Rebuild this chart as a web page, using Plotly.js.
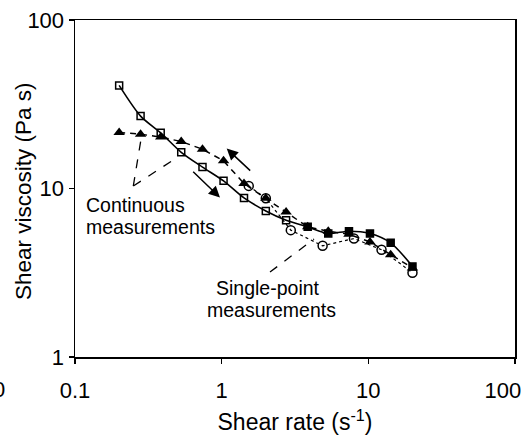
<!DOCTYPE html>
<html>
<head>
<meta charset="utf-8">
<script src="https://cdn.plot.ly/plotly-3.0.1.min.js"></script>
<style>html,body{margin:0;padding:0;background:#fff;}</style>
</head>
<body>
<div id="chart" style="width:524px;height:437px;"></div>
<script>
// Shear rates (s^-1) of the continuous sweeps
const shearRate = [0.2, 0.28, 0.384, 0.53, 0.74, 1.03, 1.42, 2.0, 2.75, 3.86, 5.33, 7.38, 10.26, 14.2, 20];
// Continuous measurement, squares (solid line)
const viscSquares = [40.9, 26.9, 21.4, 16.4, 13.4, 11.1, 8.79, 7.36, 6.48, 5.92, 5.41, 5.58, 5.41, 4.76, 3.45];
// Continuous measurement, triangles (dashed line)
const viscTriangles = [21.5, 21.0, 20.2, 19.0, 17.1, 14.6, 10.7, 8.75, 7.26, 5.92, 5.58, 5.35, 4.82, 4.05, 3.38];
// Single-point measurements (circles, dotted line)
const singleRate = [1.53, 2.0, 2.96, 4.88, 7.98, 12.3, 20];
const singleVisc = [10.36, 8.75, 5.66, 4.57, 5.05, 4.33, 3.16];
// Tick labels
const xTickVals = [0.1, 1, 10, 100];
const xTickText = ['0.1', '1', '10', '100\u00a0\u00a0\u00a0\u00a0'];
const yTickVals = [1, 10, 100];
const yTickText = ['1', '10', '100'];

const FONT = 'Liberation Sans, Arial, sans-serif';
const openCount = 9;

const traces = [
  {
    x: shearRate, y: viscSquares, type: 'scatter', mode: 'lines+markers',
    line: {color: '#000', width: 1.6, shape: 'spline', smoothing: 0.8},
    marker: {
      symbol: shearRate.map((v, i) => i < openCount ? 'square-open' : 'square'),
      size: 7, color: '#000', line: {color: '#000', width: 1.5}
    },
    showlegend: false, hoverinfo: 'skip'
  },
  {
    x: shearRate, y: viscTriangles, type: 'scatter', mode: 'lines+markers',
    line: {color: '#000', width: 1.5, dash: '6px,5px'},
    marker: {symbol: 'triangle-up', size: 10, color: '#000'},
    showlegend: false, hoverinfo: 'skip'
  },
  {
    x: singleRate, y: singleVisc, type: 'scatter', mode: 'lines+markers',
    line: {color: '#000', width: 1.2, dash: 'dot'},
    marker: {symbol: 'circle-open', size: 9, color: '#000', line: {color: '#000', width: 1.5}},
    showlegend: false, hoverinfo: 'skip'
  }
];

const axisCommon = {
  type: 'log', showgrid: false, zeroline: false,
  showline: true, linecolor: '#000', linewidth: 1.5, mirror: true,
  ticks: 'outside', ticklen: 5, tickwidth: 1.5, tickcolor: '#000',
  tickfont: {family: FONT, size: 22, color: '#000'}
};

const txt = (text, px, py, anchor, size) => ({
  xref: 'paper', yref: 'paper', x: (px - 75) / 440, y: (357 - py) / 337,
  xanchor: anchor, yanchor: 'middle', text: text, showarrow: false,
  font: {family: FONT, size: size, color: '#000'}
});

const layout = {
  width: 524, height: 437,
  margin: {l: 75, r: 9, t: 20, b: 80},
  paper_bgcolor: '#fff', plot_bgcolor: '#fff',
  font: {family: FONT, color: '#000'},
  xaxis: Object.assign({}, axisCommon, {
    range: [-1, 2], tickvals: xTickVals, ticktext: xTickText,
    ticklabelstandoff: 8, ticklabeloverflow: 'allow',
    title: {text: 'Shear rate (s<sup>-1</sup>)', font: {family: FONT, size: 23, color: '#000'}, standoff: 12}
  }),
  yaxis: Object.assign({}, axisCommon, {
    range: [0, 2], tickvals: yTickVals, ticktext: yTickText,
    ticklabelstandoff: 0
  }),
  shapes: [
    {type: 'line', xref: 'paper', yref: 'paper', x0: 0.1325, y0: 0.5074, x1: 0.1516, y1: 0.6588, line: {color: '#000', width: 1.3, dash: 'dash'}},
    {type: 'line', xref: 'paper', yref: 'paper', x0: 0.1325, y0: 0.5074, x1: 0.2348, y1: 0.5944, line: {color: '#000', width: 1.3, dash: 'dash'}},
    {type: 'line', xref: 'paper', yref: 'paper', x0: 0.4432, y0: 0.2522, x1: 0.5432, y1: 0.3501, line: {color: '#000', width: 1.3, dash: 'dash'}}
  ],
  annotations: [
    Object.assign(txt('Shear viscosity (Pa s)', 23, 191, 'center', 22.5), {textangle: -90}),
    txt('Continuous', 84, 205, 'left', 19.5),
    txt('measurements', 84, 226.5, 'left', 19.5),
    txt('Single-point', 268, 288, 'center', 19.5),
    txt('measurements', 271, 309.5, 'center', 19.5),
    txt('0', 7, 389, 'right', 22),
    {xref: 'x', yref: 'y', x: 0.0343, y: 1.2367, ax: 25, ay: 23.4, text: '', showarrow: true,
     arrowhead: 2, arrowsize: 1.5, arrowwidth: 1.5, arrowcolor: '#000'},
    {xref: 'x', yref: 'y', x: -0.0114, y: 0.9464, ax: -28.3, ay: -27.3, text: '', showarrow: true,
     arrowhead: 2, arrowsize: 1.5, arrowwidth: 1.5, arrowcolor: '#000'}
  ]
};

Plotly.newPlot('chart', traces, layout, {displayModeBar: false, staticPlot: true});
</script>
</body>
</html>
